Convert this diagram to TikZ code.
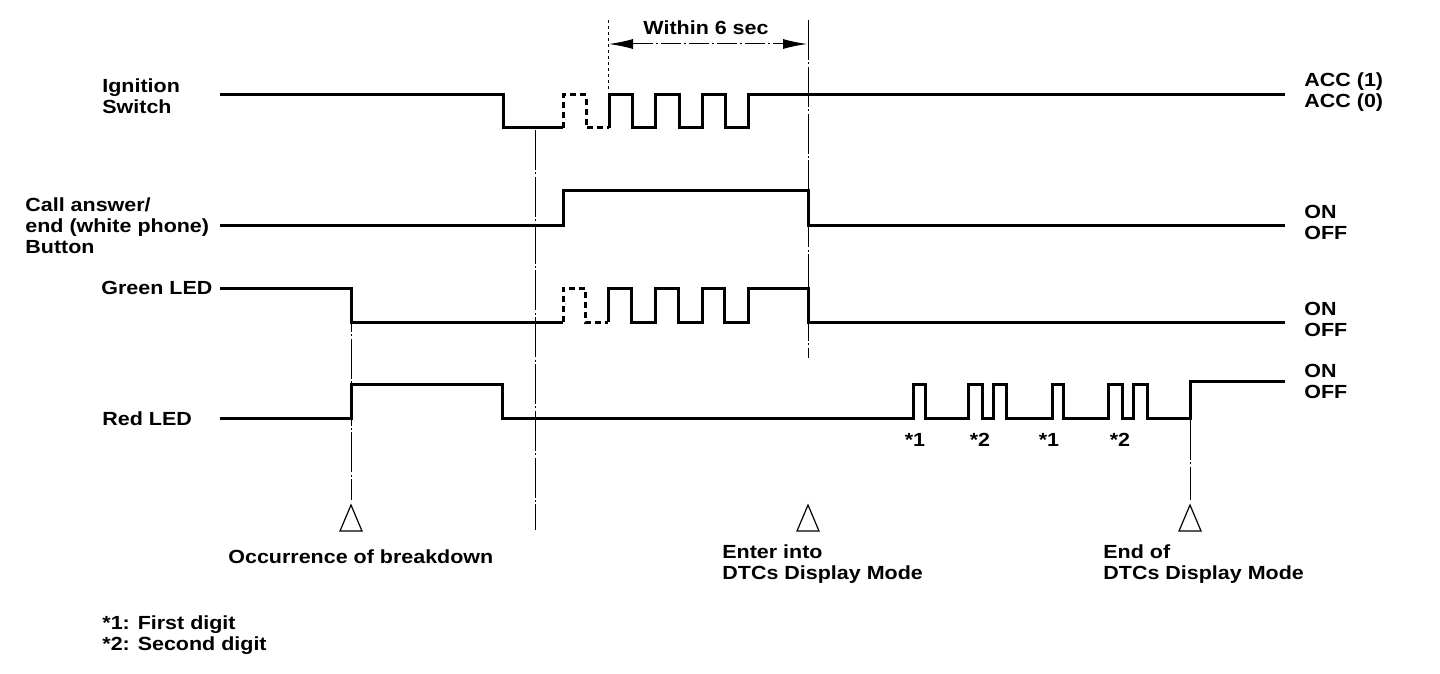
\documentclass[tikz,border=0pt]{standalone}
\usepackage{fontspec}
\setmainfont{Liberation Sans}[FakeStretch=1.13]
\usetikzlibrary{arrows.meta}
\begin{document}
\begin{tikzpicture}[x=0.5pt,y=-0.5pt,
  sig/.style={line width=1.5pt, line join=miter},
  sigdash/.style={sig, dash pattern=on 3pt off 2pt},
  guide/.style={line width=0.45pt, dash pattern=on 20pt off 1.2pt on 1pt off 1.2pt},
  dotguide/.style={line width=0.45pt, dash pattern=on 1.5pt off 1.5pt},
  lbl/.style={font=\bfseries\fontsize{9.5}{10.5}\selectfont, inner sep=0pt, align=left},
  tri/.style={line width=0.6pt, line join=miter}]
\useasboundingbox (0,0) rectangle (1440,674);
% labels left
\node[lbl, anchor=west] (ign) at (102,96) {Ignition\\Switch};
\node[lbl, anchor=west] (call) at (25,226) {Call answer/\\end (white phone)\\Button};
\node[lbl, anchor=west] (green) at (101,288) {Green LED};
\node[lbl, anchor=west] (red) at (102,419) {Red LED};
% labels right
\node[lbl, anchor=west] (accl) at (1304,92) {ACC (1)\\ACC (0)};
\node[lbl, anchor=west] (callr) at (1304,222) {ON\\OFF};
\node[lbl, anchor=west] (greenr) at (1304,319) {ON\\OFF};
\node[lbl, anchor=west] (redr) at (1304,381) {ON\\OFF};
% ignition switch
\draw[sig] (220,95) -- (503,95) -- (503,128) -- (563,128);
\draw[sigdash] (563,128) -- (563,95) -- (586,95) -- (586,128) -- (609,128);
\draw[sig] (609,128) -- (609,95) -- (632,95) -- (632,128) -- (655,128) -- (655,95) -- (679,95) -- (679,128) -- (702,128) -- (702,95) -- (725,95) -- (725,128) -- (748,128) -- (748,95) -- (1285,95);
% call button
\draw[sig] (220,225) -- (563,225) -- (563,190) -- (808,190) -- (808,225) -- (1285,225);
% green LED
\draw[sig] (220,288) -- (351,288) -- (351,322) -- (563,322);
\draw[sigdash] (563,322) -- (563,288) -- (585,288) -- (585,322) -- (608,322);
\draw[sig] (608,322) -- (608,288) -- (631,288) -- (631,322) -- (655,322) -- (655,288) -- (678,288) -- (678,322) -- (702,322) -- (702,288) -- (724,288) -- (724,322) -- (748,322) -- (748,288) -- (808,288) -- (808,322) -- (1285,322);
% red LED
\draw[sig] (220,418) -- (351,418) -- (351,384) -- (502,384) -- (502,418) -- (913,418) -- (913,384) -- (925,384) -- (925,418) -- (968,418) -- (968,384) -- (982,384) -- (982,418) -- (993,418) -- (993,384) -- (1006,384) -- (1006,418) -- (1052,418) -- (1052,384) -- (1063,384) -- (1063,418) -- (1108,418) -- (1108,384) -- (1122,384) -- (1122,418) -- (1133,418) -- (1133,384) -- (1147,384) -- (1147,418) -- (1190,418) -- (1190,381) -- (1285,381);
% digit labels
\node[lbl] (d1) at (915,440) {*1};
\node[lbl] (d2) at (980,440) {*2};
\node[lbl] (d3) at (1049,440) {*1};
\node[lbl] (d4) at (1120,440) {*2};
% guide lines
\coordinate (gA) at (351,292);
\coordinate (gB) at (535,130);
\coordinate (gC) at (808,20);
\coordinate (gD) at (608,20);
\coordinate (gE) at (1190,420);
\draw[guide] (gA) -- (351,500);
\draw[guide] (gB) -- (535,530);
\draw[guide] (gC) -- (808,358);
\draw[dotguide] (gD) -- (608,92);
\draw[guide] (gE) -- (1190,500);
% within 6 sec
\node[lbl] (within) at (706,28) {Within 6 sec};
\coordinate (wl) at (609,44);
\coordinate (wr) at (807,44);
\draw[line width=0.5pt, dash pattern=on 10pt off 1.5pt on 1pt off 1.5pt, {Latex[length=12pt,width=5pt]}-{Latex[length=12pt,width=5pt]}] (wl) -- (wr);
% triangles
\draw[tri] (351,505) -- (340,531) -- (362,531) -- cycle;
\draw[tri] (808,505) -- (797,531) -- (819,531) -- cycle;
\draw[tri] (1190,505) -- (1179,531) -- (1201,531) -- cycle;
% bottom labels
\node[lbl, anchor=west] (occ) at (228,557) {Occurrence of breakdown};
\node[lbl, anchor=west] (enter) at (722,564) {Enter into\\DTCs Display Mode};
\node[lbl, anchor=west] (endm) at (1103,564) {End of\\DTCs Display Mode};
\node[lbl, anchor=west] (notes) at (102,635) {*1: First digit\\*2: Second digit};
\end{tikzpicture}
\end{document}
